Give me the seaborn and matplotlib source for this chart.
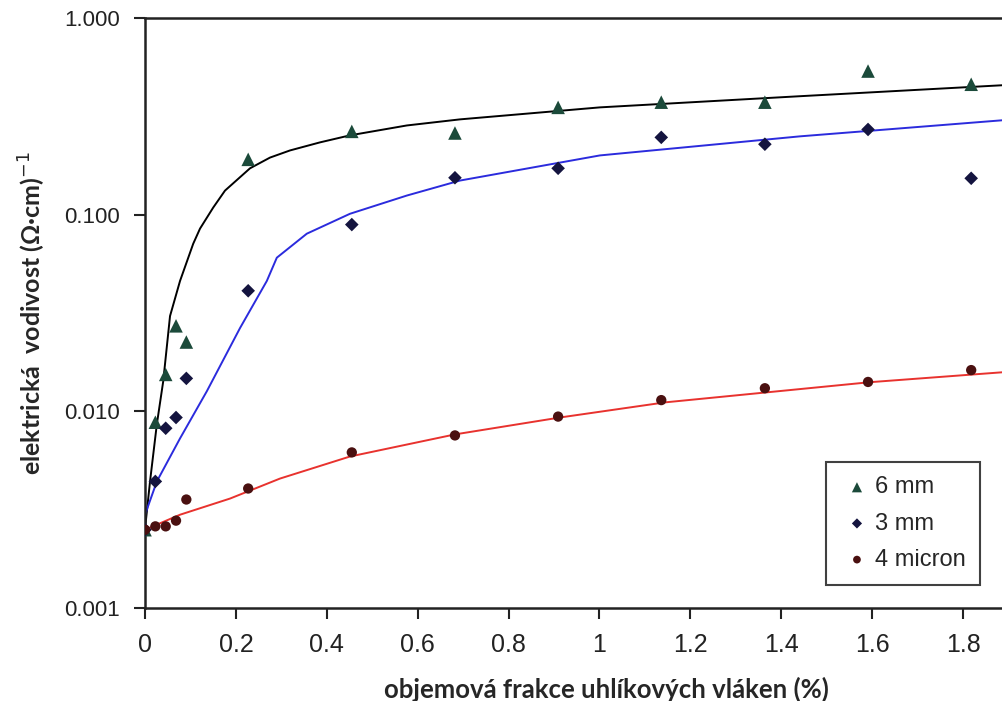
import numpy as np
import pandas as pd
import matplotlib
matplotlib.use("Agg")
import matplotlib.pyplot as plt
import matplotlib.ticker as mticker
import seaborn as sns

# -----------------------------
# data
# -----------------------------
x_pts = [0, 0.0227, 0.0455, 0.0682, 0.0909, 0.227, 0.455, 0.682, 0.909, 1.136, 1.364, 1.591, 1.818]
y_6mm = [0.0025, 0.0088, 0.0154, 0.0272, 0.0225, 0.191, 0.265, 0.26, 0.351, 0.373, 0.373, 0.537, 0.46]
y_3mm = [0.0025, 0.0044, 0.0082, 0.0093, 0.0147, 0.041, 0.089, 0.154, 0.172, 0.247, 0.228, 0.271, 0.153]
y_4um = [0.0025, 0.0026, 0.0026, 0.00278, 0.00356, 0.00405, 0.00618, 0.00754, 0.0094, 0.0114, 0.0131, 0.0141, 0.0162]

# fitted curves
fit_6mm_x = [0, 0.011, 0.026, 0.040, 0.055, 0.077, 0.106, 0.121, 0.150, 0.176, 0.231, 0.275, 0.319, 0.385,
             0.451, 0.576, 0.693, 1.001, 1.441, 1.888]
fit_6mm_y = [0.00253, 0.0044, 0.0086, 0.0142, 0.0305, 0.046, 0.0711, 0.0849, 0.1086, 0.1325, 0.172, 0.195,
             0.212, 0.233, 0.253, 0.284, 0.305, 0.351, 0.400, 0.455]
fit_3mm_x = [0, 0.026, 0.077, 0.136, 0.209, 0.268, 0.290, 0.356, 0.451, 0.576, 0.693, 1.001, 1.441, 1.888]
fit_3mm_y = [0.00298, 0.0044, 0.00728, 0.01265, 0.0265, 0.046, 0.0604, 0.080, 0.101, 0.125, 0.149, 0.200, 0.250, 0.302]
fit_4um_x = [0, 0.077, 0.187, 0.297, 0.451, 0.682, 0.913, 1.144, 1.595, 1.888]
fit_4um_y = [0.0025, 0.00298, 0.0036, 0.00455, 0.00589, 0.00763, 0.0093, 0.0111, 0.01406, 0.0158]

series = ["6 mm", "3 mm", "4 micron"]
y_ticks = [0.001, 0.01, 0.1, 1.0]
y_ticklabels = ["0.001", "0.010", "0.100", "1.000"]
x_ticks = [0, 0.2, 0.4, 0.6, 0.8, 1, 1.2, 1.4, 1.6, 1.8]
x_ticklabels = ["0", "0.2", "0.4", "0.6", "0.8", "1", "1.2", "1.4", "1.6", "1.8"]

# -----------------------------
# styl
# -----------------------------
sns.set_style("ticks")
plt.rcParams['font.family'] = ['Liberation Sans', 'DejaVu Sans']

fig = plt.figure(figsize=(10.03, 7.01), dpi=100)
ax = fig.add_axes([0.1446, 0.1327, 0.8554, 0.8417])

# fit lines
fits = [(fit_6mm_x, fit_6mm_y, "#000000"),
        (fit_3mm_x, fit_3mm_y, "#2b2bdd"),
        (fit_4um_x, fit_4um_y, "#e8322e")]
for fx, fy, c in fits:
    sns.lineplot(x=fx, y=fy, color=c, lw=1.4, sort=False, estimator=None, ax=ax, zorder=2)

# measured points
point_sets = [(y_6mm, series[0], "^", "#1b4a3a", 95),
              (y_3mm, series[1], "D", "#14143f", 48),
              (y_4um, series[2], "o", "#4a1010", 55)]
for yv, lab, mk, c, s in point_sets:
    sns.scatterplot(x=x_pts, y=yv, marker=mk, color=c, s=s, edgecolor="none",
                    label=lab, ax=ax, zorder=3)

ax.set_yscale('log')
ax.set_ylim(0.001, 1.0)
ax.set_xlim(0, 1.888)
ax.set_yticks(y_ticks)
ax.set_yticklabels(y_ticklabels)
ax.yaxis.set_minor_locator(mticker.NullLocator())
ax.set_xticks(x_ticks)
ax.set_xticklabels(x_ticklabels, family=['Liberation Sans Narrow', 'Liberation Sans'])
ax.tick_params(axis='both', colors="#222222", length=8, width=1.5, direction='out')
ax.tick_params(axis='y', labelsize=16, pad=10)
ax.tick_params(axis='x', labelsize=18, pad=10)

for side in ["left", "bottom", "top"]:
    ax.spines[side].set_linewidth(1.8)
    ax.spines[side].set_color("#222222")
ax.spines["right"].set_visible(False)

ax.set_xlabel("objemová frakce uhlíkových vláken (%)", fontsize=18.5, fontweight='bold',
              family=['Lato', 'DejaVu Sans'], labelpad=14)
ax.xaxis.label.set_x(0.538)
ax.set_ylabel("elektrická  vodivost (Ω·cm)$^{-1}$", fontsize=18, fontweight='bold',
              family=['Lato', 'DejaVu Sans'], labelpad=12)

leg = ax.legend(loc='lower left', bbox_to_anchor=(0.794, 0.039), fontsize=17,
                frameon=True, fancybox=False, edgecolor="#111111", handletextpad=0.05,
                borderpad=0.6, labelspacing=0.6, handlelength=1.4, markerscale=0.75,
                borderaxespad=0)
leg.get_frame().set_linewidth(1.5)

plt.savefig("out.png", dpi=100)
plt.close()
